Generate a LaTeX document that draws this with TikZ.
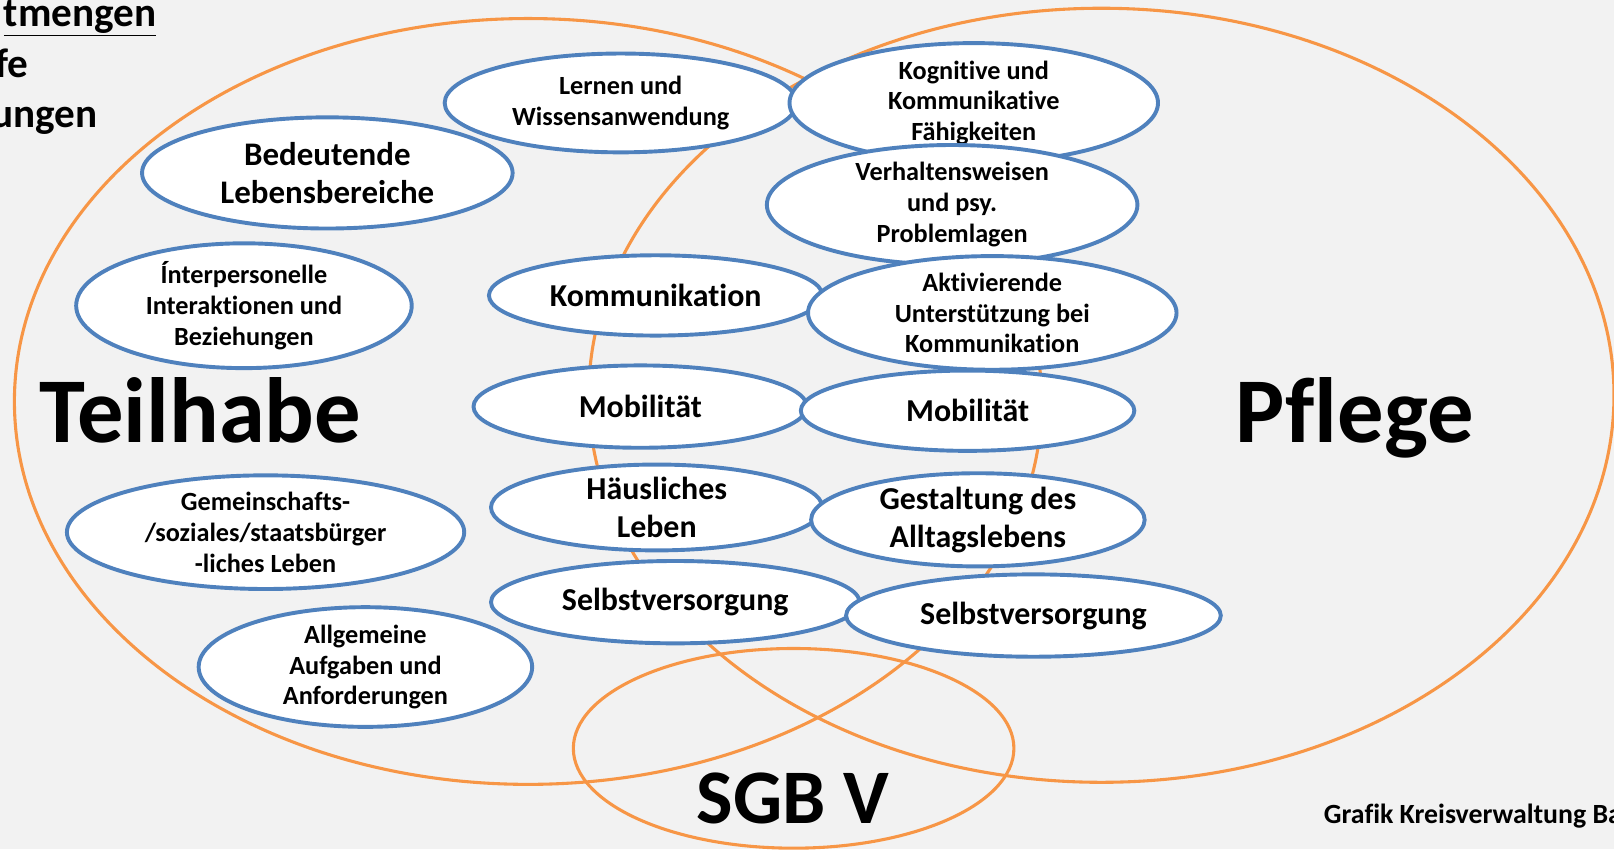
\documentclass[tikz,border=0pt]{standalone}
\usepackage{fontspec}
\setmainfont{Carlito}[Ligatures=NoCommon]
\usetikzlibrary{shapes.geometric}
\definecolor{bg}{HTML}{F2F2F2}
\definecolor{orng}{HTML}{F79646}
\definecolor{blu}{HTML}{4F81BD}
\tikzset{
  ring/.style={draw=orng, line width=3pt},
  bub/.style={ellipse, draw=blu, line width=3.8pt, fill=white, inner sep=0pt, align=center, font=\bfseries\fontsize{25.5}{30}\selectfont},
  bubL/.style={bub, font=\bfseries\fontsize{31}{37}\selectfont},
  big/.style={font=\bfseries\fontsize{90}{90}\selectfont},
  hdr/.style={font=\bfseries\fontsize{40}{44}\selectfont, inner sep=0pt}
}
\begin{document}
\begin{tikzpicture}[x=1pt,y=-1pt]
\useasboundingbox (0,0) rectangle (1568,825);
\fill[bg] (0,0) rectangle (1568,825);
\clip (0,0) rectangle (1568,825);
% orange sets
\draw[ring] (513,390) ellipse (499pt and 372pt);
\draw[ring] (1070,384) ellipse (498pt and 376pt);
\draw[ring] (771,727) ellipse (214pt and 97pt);
% blue bubbles
\node[bub, minimum width=342pt, minimum height=96pt] (lern) at (603,100) {Lernen und\\Wissensanwendung};
\node[bub, minimum width=358pt, minimum height=96pt] (kogn) at (946,100) {Kognitive und\\Kommunikative\\Fähigkeiten};
\node[bubL, minimum width=360pt, minimum height=108pt, font=\bfseries\fontsize{32}{37}\selectfont] (bed) at (318,168) {Bedeutende\\Lebensbereiche};
\node[bub, minimum width=360pt, minimum height=94pt] (verh) at (925,199) {Verhaltensweisen\\und psy.\\Problemlagen};
\node[bub, minimum width=326pt, minimum height=108pt] (inter) at (237,297) {Ínterpersonelle\\Interaktionen und\\Beziehungen};
\node[bubL, minimum width=324pt, minimum height=78pt] (komm) at (637,287) {Kommunikation};
\node[bub, minimum width=358pt, minimum height=96pt] (akt) at (964,304) {Aktivierende\\Unterstützung bei\\Kommunikation};
\node[bubL, minimum width=324pt, minimum height=80pt] (mobL) at (622,395) {Mobilität};
\node[bubL, minimum width=324pt, minimum height=78pt] (mobR) at (940,399) {Mobilität};
\node[bub, minimum width=386pt, minimum height=100pt] (gem) at (258,517) {Gemeinschafts-\\/soziales/staatsbürger\\-liches Leben};
\node[bubL, minimum width=322pt, minimum height=78pt] (haus) at (638,493) {Häusliches\\Leben};
\node[bubL, minimum width=324pt, minimum height=78pt] (gest) at (950,505) {Gestaltung des\\Alltagslebens};
\node[bubL, minimum width=358pt, minimum height=80pt] (selbL) at (656,585) {Selbstversorgung};
\node[bubL, minimum width=364pt, minimum height=80pt] (selbR) at (1004,598) {Selbstversorgung};
\node[bub, minimum width=324pt, minimum height=114pt] (allg) at (355,648) {Allgemeine\\Aufgaben und\\Anforderungen};
% big labels
\node[big, anchor=base west, inner sep=0pt] (teil) at (38,430) {Teilhabe};
\node[big, anchor=base west, inner sep=0pt] (pfl) at (1200,430) {Pflege};
\node[font=\bfseries\fontsize{75}{75}\selectfont, anchor=base, inner sep=0pt] (sgb) at (770,800) {SGB V};
% header fragments
\node[hdr, anchor=base east] (h1) at (152,26) {\underline{tmengen}};
\node[hdr, anchor=base east] (h2) at (28,75) {fe};
\node[hdr, anchor=base east] (h3) at (95,124) {ungen};
\node[font=\bfseries\fontsize{27}{30}\selectfont, anchor=base west, inner sep=0pt] (src) at (1286,800) {Grafik Kreisverwaltung Ba};
\end{tikzpicture}
\end{document}
